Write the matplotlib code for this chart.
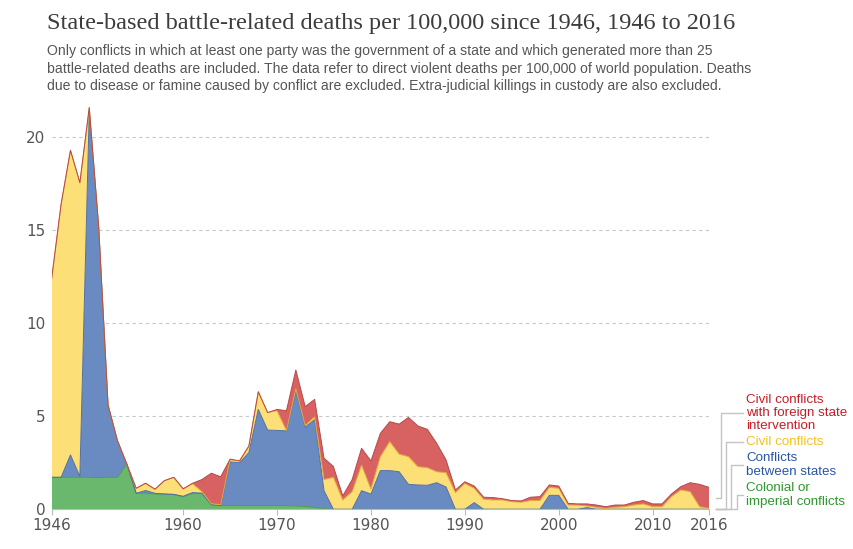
import numpy as np
import matplotlib.pyplot as plt
from matplotlib.lines import Line2D

years = np.arange(1946, 2017)

# deaths per 100,000 (stacked components)
colonial = [1.72, 1.72, 1.72, 1.72, 1.72, 1.70, 1.72, 1.72, 2.43, 0.86,
            0.86, 0.83, 0.82, 0.80, 0.68, 0.86, 0.86, 0.25, 0.20, 0.20,
            0.20, 0.20, 0.20, 0.20, 0.20, 0.20, 0.18, 0.15, 0.10, 0.04] + [0.0] * 41
interstate = [0.0, 0.0, 1.20, 0.05, 19.68, 13.50, 3.88, 1.97, 0.0, 0.0,
              0.15, 0.03, 0.0, 0.0, 0.02, 0.04, 0.0, 0.0, 0.0, 2.35,
              2.30, 2.85, 5.17, 4.06, 4.04, 4.02, 6.17, 4.27, 4.72, 0.96,
              0.0, 0.0, 0.0, 1.00, 0.82, 2.08, 2.08, 2.02, 1.34, 1.31,
              1.29, 1.43, 1.20, 0.0, 0.0, 0.36, 0.0, 0.0, 0.0, 0.0,
              0.0, 0.0, 0.0, 0.75, 0.75, 0.0, 0.0, 0.09, 0.0, 0.0,
              0.0, 0.0, 0.0, 0.0, 0.0, 0.0, 0.0, 0.0, 0.0, 0.0, 0.0]
civil = [10.70, 14.68, 16.38, 15.79, 0.20, 0.0, 0.0, 0.0, 0.0, 0.27,
         0.39, 0.22, 0.72, 0.92, 0.40, 0.48, 0.09, 0.05, 0.05, 0.12,
         0.10, 0.35, 0.95, 0.94, 1.06, 0.02, 0.12, 0.08, 0.15, 0.60,
         1.72, 0.50, 0.95, 1.38, 0.27, 0.75, 1.56, 0.95, 1.49, 0.98,
         0.95, 0.59, 0.77, 0.90, 1.39, 0.77, 0.54, 0.50, 0.50, 0.41,
         0.38, 0.47, 0.47, 0.43, 0.38, 0.23, 0.23, 0.09, 0.11, 0.05,
         0.11, 0.14, 0.23, 0.29, 0.14, 0.14, 0.68, 1.04, 0.95, 0.14, 0.05]
civil_foreign = [0.0] * 15 + [0.02, 0.65, 1.64, 1.50, 0.03,
                 0.0, 0.0, 0.0, 0.0, 0.07, 1.06, 1.02, 1.02, 0.94, 1.15,
                 0.58, 0.22, 0.65, 0.90, 1.51, 1.25, 1.07, 1.61, 2.11, 2.19,
                 2.06, 1.53, 0.68, 0.14, 0.09, 0.12, 0.11, 0.13, 0.07, 0.06,
                 0.07, 0.18, 0.21, 0.13, 0.12, 0.09, 0.06, 0.11, 0.12, 0.09,
                 0.12, 0.09, 0.15, 0.18, 0.15, 0.15, 0.14, 0.18, 0.48, 1.20, 1.13]

series = [colonial, interstate, civil, civil_foreign]
labels = ["Colonial or\nimperial conflicts", "Conflicts\nbetween states",
          "Civil conflicts", "Civil conflicts\nwith foreign state\nintervention"]
fills = ["#6ab76e", "#6a8bc1", "#fddf78", "#d86161"]
edges = ["#4f9a53", "#4f6fa5", "#e3a83a", "#b84848"]
text_colors = ["#2e962e", "#2a55a5", "#f3c220", "#c41e28"]
label_y_px = [495, 465, 442, 413]  # label centres, pixels from top
xticks = [1946, 1960, 1970, 1980, 1990, 2000, 2010, 2016]

W, H = 854, 549
fig = plt.figure(figsize=(W / 100, H / 100), dpi=100)
ax = fig.add_axes([51.7 / W, 1 - 509.3 / H, (709 - 51.7) / W, (509.3 - 100.1) / H])

ax.stackplot(years, *series, colors=fills, linewidth=0)
tops = np.cumsum(np.array(series), axis=0)
for top, ec in zip(tops, edges):
    ax.plot(years, top, color=ec, lw=0.7)

ax.set_xlim(1946, 2016)
ax.set_ylim(0, 22)
ax.set_yticks([0, 5, 10, 15, 20])
ax.set_xticks(xticks)
ax.yaxis.grid(True, color="#c8c8c8", ls=(0, (3, 3)), lw=0.8)
ax.set_axisbelow(True)
for s in ["top", "right", "left"]:
    ax.spines[s].set_visible(False)
ax.spines["bottom"].set_color("#bbbbbb")
ax.tick_params(axis="y", length=0, labelsize=11, labelcolor="#555555", pad=4.5)
ax.tick_params(axis="x", length=4, color="#bbbbbb", labelsize=11, labelcolor="#555555", pad=2.5)

# connectors from the last value to the labels
bottoms = np.vstack([np.zeros(len(years)), tops[:-1]])
mids = (bottoms[:, -1] + tops[:, -1]) / 2
x_end = ax.transData.transform((2016, 0))[0]
vert_x = [736.7, 731, 726, 720.7]
for mid, lab, ty, vx, tc in zip(mids, labels, label_y_px, vert_x, text_colors):
    ymid = ax.transData.transform((2016, mid))[1]
    ylab = H - ty
    xs = np.array([x_end + 7, vx, vx, 743]) / W
    ys = np.array([ymid, ymid, ylab, ylab]) / H
    fig.add_artist(Line2D(xs, ys, color="#c4c4c4", lw=1))
    fig.text(746.5 / W, ylab / H, lab, color=tc, fontsize=9.6, va="center",
             ha="left", linespacing=1.12, family="Liberation Sans")

fig.text(47 / W, 1 - 24 / H, "State-based battle-related deaths per 100,000 since 1946, 1946 to 2016",
         fontsize=17.5, color="#3c3c3c", family="Liberation Serif", va="center")
subtitle = ("Only conflicts in which at least one party was the government of a state and which generated more than 25\n"
            "battle-related deaths are included. The data refer to direct violent deaths per 100,000 of world population. Deaths\n"
            "due to disease or famine caused by conflict are excluded. Extra-judicial killings in custody are also excluded.")
fig.text(47 / W, 1 - 44 / H, subtitle, fontsize=10.1, color="#555555",
         family="Liberation Sans", va="top", linespacing=1.33)

fig.savefig("out.png", dpi=100)
